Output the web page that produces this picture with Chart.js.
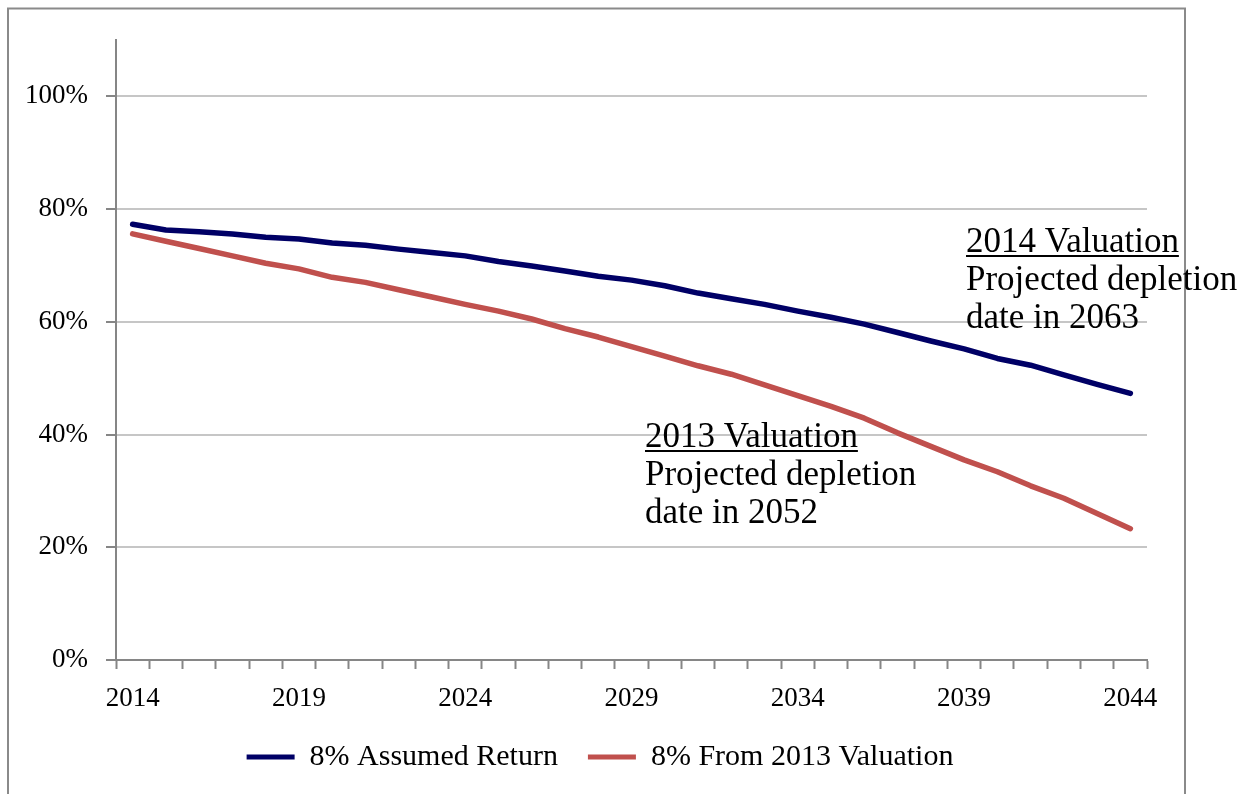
<!DOCTYPE html>
<html>
<head>
<meta charset="utf-8">
<script src="https://cdn.jsdelivr.net/npm/chart.js@4.4.1/dist/chart.umd.min.js"></script>
<style>
  html, body { margin: 0; padding: 0; background: #fff; }
  #wrap { width: 1245px; height: 794px; }
</style>
</head>
<body>
<div id="wrap"><canvas id="depletionChart" width="1245" height="794"></canvas></div>
<script>
var years = [2014, 2015, 2016, 2017, 2018, 2019, 2020, 2021, 2022, 2023,
             2024, 2025, 2026, 2027, 2028, 2029, 2030, 2031, 2032, 2033,
             2034, 2035, 2036, 2037, 2038, 2039, 2040, 2041, 2042, 2043, 2044];

// funded ratio, percent
var assumedReturn = [77.3, 76.3, 76.0, 75.6, 75.0, 74.7, 74.0, 73.6, 72.9, 72.3,
                     71.7, 70.7, 69.9, 69.0, 68.1, 67.4, 66.4, 65.1, 64.1, 63.1,
                     61.9, 60.8, 59.6, 58.1, 56.6, 55.2, 53.5, 52.3, 50.6, 48.9, 47.3];
var from2013Valuation = [75.6, 74.3, 73.0, 71.7, 70.4, 69.4, 67.9, 67.0, 65.7, 64.4,
                         63.1, 61.9, 60.5, 58.8, 57.3, 55.6, 53.9, 52.2, 50.7, 48.8,
                         46.9, 45.0, 42.9, 40.3, 37.9, 35.5, 33.4, 30.9, 28.7, 26.0, 23.3];

var seriesNames = ['8% Assumed Return', '8% From 2013 Valuation'];
var yTicks = [0, 20, 40, 60, 80, 100];

var note2014 = ['2014 Valuation', 'Projected depletion', 'date in 2063'];
var note2013 = ['2013 Valuation', 'Projected depletion', 'date in 2052'];

var serif = '"Liberation Serif", "Times New Roman", serif';
Chart.defaults.font.family = serif;
Chart.defaults.color = '#000';

// frame + text notes drawn straight on the canvas
var notesPlugin = {
    id: 'notes',
    afterLayout: function(chart) {
        // centre the legend under the whole frame, not just the plot
        chart.legend.left = 53;
    },
    beforeDraw: function(chart) {
        var ctx = chart.ctx;
        ctx.save();
        ctx.strokeStyle = '#8a8a8a';
        ctx.lineWidth = 2;
        ctx.strokeRect(8, 8.5, 1177, 900);
        ctx.restore();
    },
    afterDraw: function(chart) {
        var ctx = chart.ctx;
        function drawNote(lines, x, y) {
            ctx.save();
            ctx.font = '35px ' + serif;
            ctx.fillStyle = '#000';
            ctx.textBaseline = 'alphabetic';
            ctx.textAlign = 'left';
            for (var i = 0; i < lines.length; i++) {
                ctx.fillText(lines[i], x, y + i * 38);
            }
            var w = ctx.measureText(lines[0]).width;
            ctx.fillRect(x, y + 3, w, 2);
            ctx.restore();
        }
        drawNote(note2014, 966, 252);
        drawNote(note2013, 645, 447);
    }
};

var ctx = document.getElementById('depletionChart').getContext('2d');
var depletionChart = new Chart(ctx, {
    type: 'line',
    data: {
        labels: years,
        datasets: [{
            label: seriesNames[0],
            data: assumedReturn,
            borderColor: '#000066',
            backgroundColor: '#000066',
            borderWidth: 5.5,
            pointRadius: 0,
            pointBorderWidth: 5,
            pointStyle: 'line',
            borderJoinStyle: 'round',
            borderCapStyle: 'round',
            tension: 0
        }, {
            label: seriesNames[1],
            data: from2013Valuation,
            borderColor: '#c0504d',
            backgroundColor: '#c0504d',
            borderWidth: 5.5,
            pointRadius: 0,
            pointBorderWidth: 5,
            pointStyle: 'line',
            borderJoinStyle: 'round',
            borderCapStyle: 'round',
            tension: 0
        }]
    },
    options: {
        responsive: false,
        animation: false,
        layout: {
            padding: { left: 0, right: 98, top: 40, bottom: 12 }
        },
        scales: {
            x: {
                offset: true,
                grid: {
                    offset: true,
                    drawOnChartArea: false,
                    tickLength: 9,
                    tickColor: '#868686',
                    tickWidth: 2
                },
                border: { color: '#868686', width: 2 },
                ticks: {
                    autoSkip: false,
                    maxRotation: 0,
                    padding: 14,
                    font: { size: 27 },
                    color: '#000',
                    callback: function(value, index) {
                        return index % 5 === 0 ? years[index] : '';
                    }
                },
                afterFit: function(scale) { scale.height = 52; }
            },
            y: {
                min: 0,
                max: 110,
                afterBuildTicks: function(scale) {
                    scale.ticks = yTicks.map(function(v) { return { value: v }; });
                },
                ticks: {
                    padding: 18,
                    font: { size: 27 },
                    color: '#000',
                    callback: function(value) { return value + '%'; }
                },
                grid: {
                    color: '#c6c6c6',
                    lineWidth: 2,
                    tickLength: 10,
                    tickColor: '#868686',
                    tickWidth: 2
                },
                border: { color: '#868686', width: 2 },
                afterFit: function(scale) { scale.width = 116; }
            }
        },
        plugins: {
            legend: {
                position: 'bottom',
                labels: {
                    usePointStyle: true,
                    pointStyle: 'line',
                    pointStyleWidth: 48,
                    padding: 30,
                    font: { size: 30 },
                    color: '#000'
                }
            },
            tooltip: { enabled: false }
        }
    },
    plugins: [notesPlugin]
});
</script>
</body>
</html>
